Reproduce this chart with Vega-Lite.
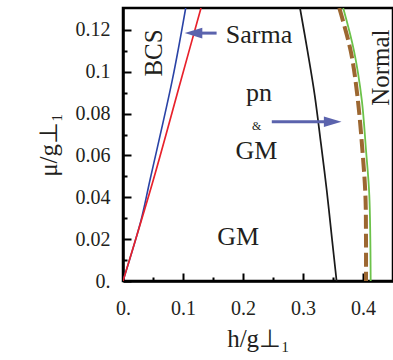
{
  "$schema": "https://vega.github.io/schema/vega-lite/v6.json",
  "width": 270,
  "height": 273,
  "autosize": "none",
  "padding": {"left": 123, "top": 8, "right": 0, "bottom": 79},
  "background": "white",
  "config": {
    "view": {"stroke": "black", "strokeWidth": 2.5},
    "axis": {
      "grid": false,
      "domainColor": "black",
      "domainWidth": 2.5,
      "tickColor": "black",
      "tickWidth": 2,
      "labelFont": "Liberation Serif",
      "labelFontSize": 20,
      "labelColor": "#231f20",
      "labelFlush": false,
      "titleFont": "Liberation Serif",
      "titleFontSize": 25,
      "titleFontWeight": "normal",
      "titleColor": "#231f20"
    }
  },
  "datasets": {
    "curves": [
      {"series": "blue", "h": 0, "mu": 0},
      {"series": "blue", "h": 0.030, "mu": 0.029},
      {"series": "blue", "h": 0.045, "mu": 0.0483},
      {"series": "blue", "h": 0.0822, "mu": 0.0961},
      {"series": "blue", "h": 0.1045, "mu": 0.1305},
      {"series": "red", "h": 0, "mu": 0},
      {"series": "red", "h": 0.0505, "mu": 0.0483},
      {"series": "red", "h": 0.0967, "mu": 0.0961},
      {"series": "red", "h": 0.130, "mu": 0.1305},
      {"series": "black", "h": 0.295, "mu": 0.1305},
      {"series": "black", "h": 0.3075, "mu": 0.110},
      {"series": "black", "h": 0.3195, "mu": 0.0889},
      {"series": "black", "h": 0.330, "mu": 0.0655},
      {"series": "black", "h": 0.3395, "mu": 0.0435},
      {"series": "black", "h": 0.348, "mu": 0.021},
      {"series": "black", "h": 0.356, "mu": 0},
      {"series": "green", "h": 0.367, "mu": 0.1305},
      {"series": "green", "h": 0.385, "mu": 0.110},
      {"series": "green", "h": 0.398, "mu": 0.0865},
      {"series": "green", "h": 0.405, "mu": 0.0626},
      {"series": "green", "h": 0.4105, "mu": 0.0411},
      {"series": "green", "h": 0.4128, "mu": 0},
      {"series": "brown", "h": 0.3605, "mu": 0.1305},
      {"series": "brown", "h": 0.3795, "mu": 0.110},
      {"series": "brown", "h": 0.3905, "mu": 0.0889},
      {"series": "brown", "h": 0.399, "mu": 0.0626},
      {"series": "brown", "h": 0.404, "mu": 0.0411},
      {"series": "brown", "h": 0.405, "mu": 0.02},
      {"series": "brown", "h": 0.405, "mu": 0}
    ],
    "arrows": [
      {"arrow": "Sarma", "dir": "left", "tail": 0.156, "head": 0.1175, "mu": 0.1185},
      {"arrow": "pn", "dir": "right", "tail": 0.248, "head": 0.3495, "mu": 0.0761}
    ],
    "labels": [
      {"label": "Sarma", "kind": "big", "h": 0.2267, "mu": 0.1139},
      {"label": "pn", "kind": "big", "h": 0.2267, "mu": 0.086},
      {"label": "GM", "kind": "big", "h": 0.2225, "mu": 0.0583},
      {"label": "GM", "kind": "big", "h": 0.192, "mu": 0.0172},
      {"label": "&", "kind": "small", "h": 0.2228, "mu": 0.0722},
      {"label": "BCS", "kind": "rot", "h": 0.0645, "mu": 0.109},
      {"label": "Normal", "kind": "rot", "h": 0.4435, "mu": 0.102}
    ]
  },
  "layer": [
    {
      "data": {"name": "curves"},
      "transform": [{"filter": "datum.series != 'brown'"}],
      "mark": {"type": "line", "clip": true, "interpolate": "catmull-rom"},
      "encoding": {
        "x": {
          "field": "h", "type": "quantitative",
          "scale": {"domain": [0, 0.45], "nice": false, "zero": false},
          "axis": {
            "orient": "bottom",
            "values": [0, 0.1, 0.2, 0.3, 0.4],
            "tickSize": -8,
            "labelFont": "Liberation Serif",
            "labelPadding": 25,
            "labelExpr": "datum.value == 0 ? '0.' : format(datum.value, '~g')",
            "title": "h/g⊥₁",
            "titlePadding": 8
          }
        },
        "y": {
          "field": "mu", "type": "quantitative",
          "scale": {"domain": [0, 0.1305], "nice": false, "zero": false},
          "axis": {
            "orient": "left",
            "values": [0, 0.02, 0.04, 0.06, 0.08, 0.1, 0.12],
            "tickSize": -8,
            "labelFont": "Liberation Serif",
            "labelPadding": 21,
            "labelExpr": "datum.value == 0 ? '0.' : format(datum.value, '~g')",
            "title": "μ/g⊥₁",
            "titlePadding": 14
          }
        },
        "detail": {"field": "series"},
        "order": {"field": "mu", "sort": "descending"},
        "color": {
          "field": "series",
          "scale": {"domain": ["blue", "red", "black", "green"], "range": ["#2a43a6", "#e8212b", "#1a1a1a", "#6cc24a"]},
          "legend": null
        },
        "strokeWidth": {
          "field": "series",
          "scale": {"domain": ["blue", "red", "black", "green"], "range": [1.6, 1.8, 1.8, 1.6]},
          "legend": null
        }
      }
    },
    {
      "data": {"name": "curves"},
      "transform": [{"filter": "datum.series == 'brown'"}],
      "mark": {"type": "line", "clip": true, "interpolate": "catmull-rom", "color": "#9c6731", "strokeWidth": 4, "strokeDash": [14, 5]},
      "encoding": {
        "x": {
          "field": "h", "type": "quantitative",
          "scale": {"domain": [0, 0.45], "nice": false, "zero": false},
          "axis": {"orient": "bottom", "values": [0.05, 0.15, 0.25, 0.35], "tickSize": -4, "labels": false, "domain": false, "title": null}
        },
        "y": {
          "field": "mu", "type": "quantitative",
          "scale": {"domain": [0, 0.1305], "nice": false, "zero": false},
          "axis": {"orient": "left", "values": [0.01, 0.03, 0.05, 0.07, 0.09, 0.11], "tickSize": -4, "labels": false, "domain": false, "title": null}
        },
        "order": {"field": "mu", "sort": "descending"}
      }
    },
    {
      "data": {"name": "arrows"},
      "mark": {"type": "rule", "color": "#5b63ad", "strokeWidth": 3},
      "encoding": {
        "x": {"field": "tail", "type": "quantitative", "axis": null},
        "x2": {"field": "head"},
        "y": {"field": "mu", "type": "quantitative", "axis": null}
      }
    },
    {
      "data": {"name": "arrows"},
      "mark": {"type": "point", "filled": true, "color": "#5b63ad", "opacity": 1, "size": 310},
      "encoding": {
        "x": {"field": "head", "type": "quantitative", "axis": null},
        "y": {"field": "mu", "type": "quantitative", "axis": null},
        "shape": {
          "field": "dir",
          "scale": {"domain": ["left", "right"], "range": ["M1,-0.6L-1,0L1,0.6Z", "M-1,-0.6L1,0L-1,0.6Z"]},
          "legend": null
        }
      }
    },
    {
      "data": {"name": "labels"},
      "transform": [{"filter": "datum.kind == 'big'"}],
      "mark": {"type": "text", "font": "Liberation Serif", "fontSize": 26, "align": "center", "baseline": "alphabetic", "color": "#231f20"},
      "encoding": {
        "x": {"field": "h", "type": "quantitative", "axis": null},
        "y": {"field": "mu", "type": "quantitative", "axis": null},
        "text": {"field": "label"}
      }
    },
    {
      "data": {"name": "labels"},
      "transform": [{"filter": "datum.kind == 'small'"}],
      "mark": {"type": "text", "font": "Liberation Serif", "fontSize": 12, "align": "center", "baseline": "alphabetic", "color": "#231f20"},
      "encoding": {
        "x": {"field": "h", "type": "quantitative", "axis": null},
        "y": {"field": "mu", "type": "quantitative", "axis": null},
        "text": {"field": "label"}
      }
    },
    {
      "data": {"name": "labels"},
      "transform": [{"filter": "datum.kind == 'rot'"}],
      "mark": {"type": "text", "font": "Liberation Serif", "fontSize": 25, "angle": 270, "align": "center", "baseline": "alphabetic", "color": "#231f20"},
      "encoding": {
        "x": {"field": "h", "type": "quantitative", "axis": null},
        "y": {"field": "mu", "type": "quantitative", "axis": null},
        "text": {"field": "label"}
      }
    }
  ],
  "resolve": {"axis": {"x": "independent", "y": "independent"}}
}
